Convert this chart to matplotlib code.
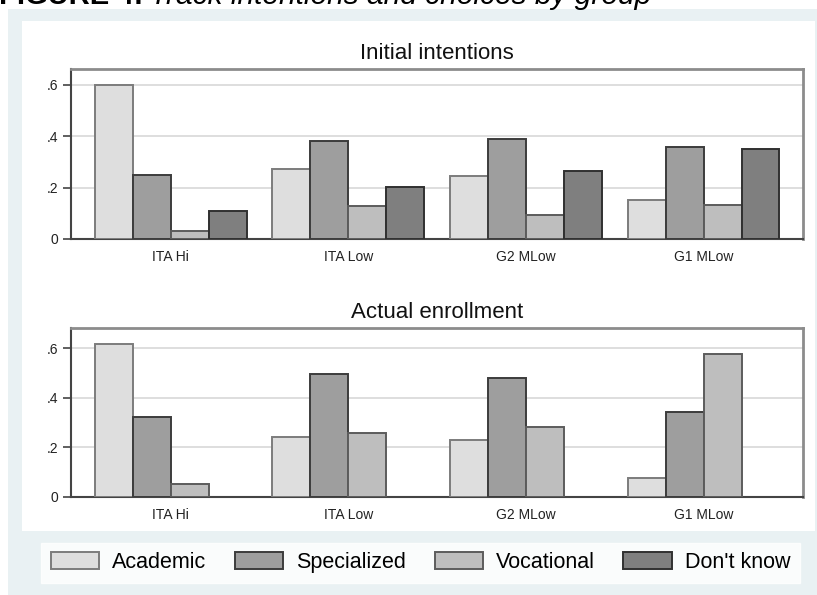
import matplotlib
matplotlib.use("Agg")
import matplotlib.pyplot as plt
import matplotlib.patches as mpatches
import numpy as np

plt.rcParams['font.family'] = ['Liberation Sans', 'DejaVu Sans']

groups = ["ITA Hi", "ITA Low", "G2 MLow", "G1 MLow"]
series = ["Academic", "Specialized", "Vocational", "Don't know"]
intentions = {
    "Academic":    [0.600, 0.271, 0.245, 0.151],
    "Specialized": [0.249, 0.383, 0.390, 0.358],
    "Vocational":  [0.031, 0.129, 0.092, 0.134],
    "Don't know":  [0.109, 0.203, 0.266, 0.349],
}
enrollment = {
    "Academic":    [0.617, 0.240, 0.231, 0.075],
    "Specialized": [0.322, 0.494, 0.479, 0.341],
    "Vocational":  [0.052, 0.256, 0.283, 0.575],
}
yticks = [0, 0.2, 0.4, 0.6]
ytick_labels = ["0", ".2", ".4", ".6"]
titles = ["Initial intentions", "Actual enrollment"]

fills = {"Academic": "#dedede", "Specialized": "#9e9e9e",
         "Vocational": "#bebebe", "Don't know": "#7f7f7f"}
edges = {"Academic": "#7c7c7c", "Specialized": "#3c3c3c",
         "Vocational": "#5c5c5c", "Don't know": "#303030"}

W, H = 817, 595
fig = plt.figure(figsize=(W / 100, H / 100), dpi=100)
fig.patch.set_facecolor("white")

def fx(x):
    return x / W

def fy(y):
    return 1 - y / H

# background panels
fig.patches.append(mpatches.Rectangle((fx(8), fy(600)), fx(820 - 8), (600 - 8.5) / H,
                                      transform=fig.transFigure, facecolor="#e9f1f3",
                                      edgecolor="none", zorder=-10))
fig.patches.append(mpatches.Rectangle((fx(22), fy(531)), fx(815 - 22), (531 - 20.5) / H,
                                      transform=fig.transFigure, facecolor="white",
                                      edgecolor="none", zorder=-9))

# top caption (cut off at the top edge, as in the reference)
fig.text(fx(-1), fy(4.5), "FIGURE 4:", fontsize=21, fontweight="bold",
         ha="left", va="baseline", color="black")
fig.text(fx(150), fy(4.5), "Track intentions and choices by group", fontsize=21.5,
         fontstyle="italic", ha="left", va="baseline", color="black")

spacing = 4.68
centers = np.arange(len(groups)) * spacing

def draw_panel(rect_px, data, ylim_top, title):
    x0, y0, x1, y1 = rect_px
    ax = fig.add_axes([fx(x0), fy(y1), fx(x1 - x0), (y1 - y0) / H])
    ax.set_facecolor("white")
    handles = []
    for j, s in enumerate(series):
        if s not in data:
            continue
        b = ax.bar(centers + (j - 1.5), data[s], width=1.0, color=fills[s],
                   edgecolor=edges[s], linewidth=1.4, zorder=3, label=s)
        handles.append(b)
    ax.set_xlim(-2.63, centers[-1] + 2.62)
    ax.set_ylim(0, ylim_top)
    ax.set_yticks(yticks)
    ax.set_yticklabels(ytick_labels, fontsize=10)
    ax.set_xticks(centers)
    ax.set_xticklabels(groups, fontsize=10)
    ax.tick_params(axis="x", length=0, pad=8, colors="#222222")
    ax.tick_params(axis="y", length=6, width=1.2, color="#444444", pad=3, labelcolor="#222222")
    ax.yaxis.grid(True, color="#d4d4d4", linewidth=1.1, zorder=0)
    ax.set_axisbelow(True)
    for side in ["left", "bottom"]:
        ax.spines[side].set_color("#444444")
        ax.spines[side].set_linewidth(1.5)
    for side in ["top", "right"]:
        ax.spines[side].set_color("#8c8c8c")
        ax.spines[side].set_linewidth(2.0)
    ax.set_title(title, fontsize=16, pad=7, color="#111111")
    return ax, handles

ax1, h1 = draw_panel((71, 69, 803, 239), intentions, 0.662, titles[0])
ax2, h2 = draw_panel((71, 328, 803, 497), enrollment, 0.681, titles[1])

leg = fig.legend(handles=h1, labels=series, loc="lower left",
                 bbox_to_anchor=(fx(41), fy(583), fx(800 - 41), (583 - 545) / H),
                 mode="expand", ncol=4, fontsize=15.5, frameon=True, fancybox=False,
                 handlelength=2.25, handleheight=0.85, handletextpad=0.6,
                 borderpad=0.45, borderaxespad=0, columnspacing=1.5)
leg.get_frame().set_facecolor("white")
leg.get_frame().set_edgecolor("white")

fig.savefig("out.png", dpi=100)
